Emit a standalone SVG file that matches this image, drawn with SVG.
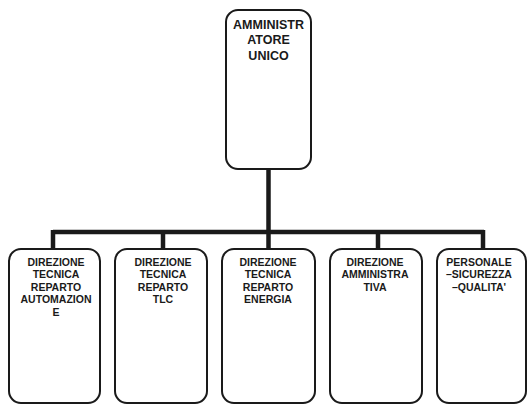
<svg xmlns="http://www.w3.org/2000/svg" width="530" height="406" viewBox="0 0 530 406">
<style>
.box{fill:#fff;stroke:#1a1a1a;stroke-width:2}
.t{font-family:"Liberation Sans",Arial,sans-serif;font-weight:bold;fill:#1a1a1a;text-anchor:middle}
.s{font-size:10.5px}
.b{font-size:12.5px}
.c{fill:none;stroke:#1a1a1a;stroke-width:4.5}
</style>
<rect width="530" height="406" fill="#fff"/>
<g id="connectors">
<path class="c" d="M268.5 169V232M53 232H484M53 230V249M163 230V249M268.5 230V249M378 230V249M483 230V249"/>
</g>
<g id="n0">
<rect class="box" x="226" y="10" width="85" height="159" rx="12"/>
<text class="t b" x="268.5" y="28.5">AMMINISTR</text>
<text class="t b" x="268.5" y="44">ATORE</text>
<text class="t b" x="268.5" y="59.5">UNICO</text>
</g>
<g id="n1">
<rect class="box" x="9" y="249" width="91" height="154" rx="12"/>
<text class="t s" x="56" y="265.5">DIREZIONE</text>
<text class="t s" x="56" y="278">TECNICA</text>
<text class="t s" x="56" y="290.5">REPARTO</text>
<text class="t s" x="56" y="303">AUTOMAZION</text>
<text class="t s" x="56" y="315.5">E</text>
</g>
<g id="n2">
<rect class="box" x="115" y="249" width="92" height="154" rx="12"/>
<text class="t s" x="163" y="265.5">DIREZIONE</text>
<text class="t s" x="163" y="278">TECNICA</text>
<text class="t s" x="163" y="290.5">REPARTO</text>
<text class="t s" x="163" y="303">TLC</text>
</g>
<g id="n3">
<rect class="box" x="222" y="249" width="93" height="154" rx="12"/>
<text class="t s" x="268" y="265.5">DIREZIONE</text>
<text class="t s" x="268" y="278">TECNICA</text>
<text class="t s" x="268" y="290.5">REPARTO</text>
<text class="t s" x="268" y="303">ENERGIA</text>
</g>
<g id="n4">
<rect class="box" x="330" y="249" width="92" height="154" rx="12"/>
<text class="t s" x="375" y="265.5">DIREZIONE</text>
<text class="t s" x="375" y="278">AMMINISTRA</text>
<text class="t s" x="375" y="290.5">TIVA</text>
</g>
<g id="n5">
<rect class="box" x="437" y="249" width="89" height="154" rx="12"/>
<text class="t s" x="479" y="265.5">PERSONALE</text>
<text class="t s" x="479" y="278">–SICUREZZA</text>
<text class="t s" x="479" y="290.5">–QUALITA'</text>
</g>
</svg>
